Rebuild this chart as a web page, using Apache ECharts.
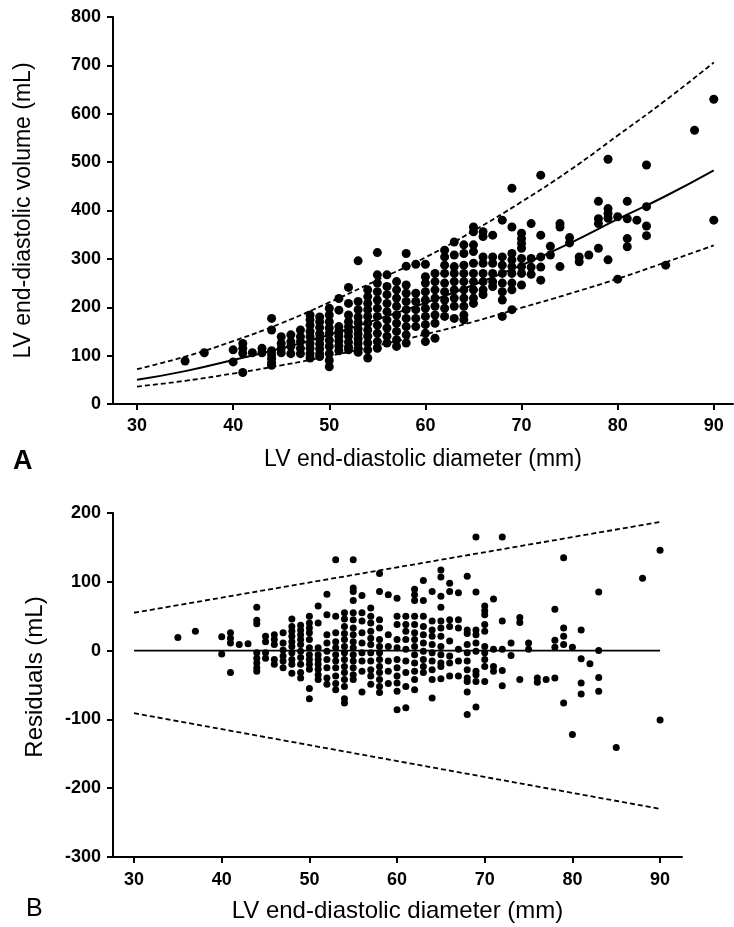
<!DOCTYPE html>
<html>
<head>
<meta charset="utf-8">
<script src="https://cdn.jsdelivr.net/npm/echarts@6/dist/echarts.min.js"></script>
<style>html,body{margin:0;padding:0;background:#fff}#c{width:734px;height:927px}</style>
</head>
<body>
<div id="c"></div>
<script>
// Panel A: LV end-diastolic volume (mL) by LV end-diastolic diameter (mm), grouped by diameter
const volumeColumns = [
  [35,[89]], [37,[106]], [40,[112,87]], [41,[125,115,105,65]], [42,[106]], [43,[115,106]],
  [44,[177,153,110,102,94,86,80]], [45,[139,125,115,106]], [46,[143,129,119,104]],
  [47,[153,139,129,115,104]], [48,[184,174,163,150,139,125,115,104,95]],
  [49,[180,170,158,145,135,124,114,104,98]], [50,[198,184,170,157,146,132,119,104,90,77]],
  [51,[218,194,160,150,140,130,120,110]], [52,[241,208,184,170,160,150,140,128,118,112]],
  [53,[296,212,195,180,168,155,145,135,125,115,107]],
  [54,[236,222,208,195,181,167,153,140,126,112,95]],
  [55,[313,267,250,232,215,198,181,163,146,129,115]],
  [56,[267,243,226,208,191,174,157,140,126]], [57,[253,236,219,202,184,167,150,133,119]],
  [58,[311,285,246,229,212,195,177,160,143,126]], [59,[289,229,212,195,177,160]],
  [60,[289,263,250,232,215,198,181,164,146,129]], [61,[270,253,236,219,202,184,167,136]],
  [62,[318,304,287,270,250,232,215,198,181]], [63,[335,308,284,270,253,236,219,202,177]],
  [64,[329,311,287,270,253,236,219,202,184,174]], [65,[366,356,329,315,291,270,253,236,219,208]],
  [66,[356,346,304,291,270,253,236,226]], [67,[349,304,291,270,253,243]],
  [68,[380,304,287,270,250,232,215,181]], [69,[446,366,311,298,284,270,250,236,195]],
  [70,[353,342,332,322,301,284,270,246]], [71,[373,301,283,268]], [72,[473,349,304,283,256]],
  [73,[326,308]], [74,[373,366,284]], [75,[344,333]], [76,[304,294]], [77,[308]],
  [78,[419,383,373,322]], [79,[506,404,394,384,298]], [80,[387,258]], [81,[419,383,342,325]],
  [82,[380]], [83,[494,408,368,348]], [85,[287]], [88,[566]], [90,[630,380]]
];
// Panel A fitted curve and prediction limits, read at 5 mm steps
const fitDiameter = [30,35,40,45,50,55,60,65,70,75,80,85,90];
const fitVolume   = [50,68,91,115,143,175,209,246,287,332,382,430,483];
const upperVolume = [72,98,130,167,210,256,303,358,418,483,555,628,706];
const lowerVolume = [36,48,63,80,99,121,144,170,199,228,259,293,328];

// Panel B: residuals (mL) by diameter
const residualColumns = [
  [35,[19]], [37,[28]], [40,[20,-5]], [41,[26,18,11,-32]], [42,[9]], [43,[10]],
  [44,[63,44,39,-3,-11,-18,-25,-30]], [45,[21,13,-3,-11]], [46,[23,16,9,-13,-20]],
  [47,[26,11,1,-8,-15,-25]], [48,[46,35,28,21,13,6,-3,-13,-20,-33]],
  [49,[37,30,23,16,9,-1,-10,-20,-32,-40]], [50,[50,40,33,26,16,4,-6,-13,-20,-27,-55,-70]],
  [51,[65,40,4,-6,-13,-20,-27,-35,-42]], [52,[82,52,23,11,-1,-13,-25,-40,-49]],
  [53,[132,50,26,13,4,-6,-15,-25,-37,-48,-57]],
  [54,[55,46,35,25,16,6,-3,-13,-23,-32,-42,-52,-70,-76]],
  [55,[132,91,86,73,55,45,33,23,13,4,-6,-15,-25,-35,-42]],
  [56,[80,55,43,26,11,-3,-15,-30,-60]], [57,[62,50,40,28,18,9,-3,-15,-28,-37,-49]],
  [58,[112,86,45,33,16,6,-3,-13,-23,-32,-42,-52,-61]], [59,[81,23,6,-15,-30,-48]],
  [60,[76,50,38,16,4,-13,-25,-37,-47,-59,-86]], [61,[50,38,28,16,2,-15,-32,-52,-83]],
  [62,[89,81,73,50,38,26,16,6,-6,-18,-30,-42,-57]], [63,[102,73,50,35,23,11,-1,-13,-23,-32]],
  [64,[86,43,30,21,9,-3,-15,-28,-42,-69]], [65,[117,107,79,63,43,33,21,6,-6,-18,-23,-41]],
  [66,[98,86,45,35,14,-8,-18,-37]], [67,[84,45,33,2,-15,-37]],
  [68,[108,30,25,9,-3,-15,-28,-40,-45,-60,-93]], [69,[165,85,30,23,11,-1,-30,-35,-45,-82]],
  [70,[65,58,52,38,28,6,-3,-13,-23,-45]], [71,[75,2,-23,-30]], [72,[165,43,2,-29,-51]],
  [73,[11,-7]], [74,[48,41,-42]], [75,[11,2]], [76,[-40,-46]], [77,[-42]],
  [78,[60,15,5,-40]], [79,[135,33,21,9,-76]], [80,[5,-122]], [81,[30,-12,-47,-63]],
  [82,[-19]], [83,[85,0,-39,-59]], [85,[-141]], [88,[105]], [90,[146,-101]]
];
const bandDiameter  = [30,90];
const zeroResidual  = [0,0];
const upperResidual = [55,187];
const lowerResidual = [-91,-230];

const xTicks = [30,40,50,60,70,80,90];

const FONT = 'Liberation Sans, Arial, Helvetica, sans-serif';
const flat = cols => cols.flatMap(([d, vs]) => vs.map(v => [d, v]));
const pairs = (xs, ys) => xs.map((x, i) => [x, ys[i]]);

const axisLineStyle = {show:true, onZero:false, lineStyle:{color:'#000', width:2}};
const tickStyle = {show:true, inside:false, length:6, lineStyle:{color:'#000', width:2}};
const labelStyle = {color:'#000', fontFamily:FONT, fontWeight:'bold', fontSize:18};
const dashStyle = {color:'#000', width:1.8, type:[5,3]};

const chart = echarts.init(document.getElementById('c'), null, {renderer:'canvas'});
chart.setOption({
  animation:false,
  backgroundColor:'#fff',
  grid:[
    {left:113, top:17, width:620, height:387},
    {left:113, top:513, width:569, height:344}
  ],
  xAxis:[
    {type:'value', gridIndex:0, min:27.5, max:92,
     name:'LV end-diastolic diameter (mm)', nameLocation:'middle', nameGap:44,
     nameTextStyle:{color:'#000', fontFamily:FONT, fontSize:23},
     axisLine:axisLineStyle,
     axisTick:Object.assign({customValues:xTicks}, tickStyle),
     axisLabel:Object.assign({customValues:xTicks, margin:13}, labelStyle),
     splitLine:{show:false}},
    {type:'value', gridIndex:1, min:27.6, max:92.5,
     name:'LV end-diastolic diameter (mm)', nameLocation:'middle', nameGap:42,
     nameTextStyle:{color:'#000', fontFamily:FONT, fontSize:24},
     axisLine:axisLineStyle,
     axisTick:Object.assign({customValues:xTicks}, tickStyle),
     axisLabel:Object.assign({customValues:xTicks, margin:14}, labelStyle),
     splitLine:{show:false}}
  ],
  yAxis:[
    {type:'value', gridIndex:0, min:0, max:800, interval:100,
     name:'LV end-diastolic volume (mL)', nameLocation:'middle', nameGap:78,
     nameTextStyle:{color:'#000', fontFamily:FONT, fontSize:23},
     axisLine:axisLineStyle, axisTick:tickStyle,
     axisLabel:Object.assign({margin:12}, labelStyle),
     splitLine:{show:false}},
    {type:'value', gridIndex:1, min:-300, max:200, interval:100,
     name:'Residuals (mL)', nameLocation:'middle', nameGap:66,
     nameTextStyle:{color:'#000', fontFamily:FONT, fontSize:24, padding:[0,0,0,16]},
     axisLine:axisLineStyle, axisTick:tickStyle,
     axisLabel:Object.assign({margin:12}, labelStyle),
     splitLine:{show:false}}
  ],
  graphic:[
    {type:'text', left:13, top:448, style:{text:'A', font:'bold 27px ' + FONT, fill:'#000'}},
    {type:'text', left:26, top:897, style:{text:'B', font:'25px ' + FONT, fill:'#000'}}
  ],
  series:[
    {type:'line', xAxisIndex:0, yAxisIndex:0, data:pairs(fitDiameter, upperVolume), smooth:true,
     showSymbol:false, lineStyle:dashStyle, z:2},
    {type:'line', xAxisIndex:0, yAxisIndex:0, data:pairs(fitDiameter, lowerVolume), smooth:true,
     showSymbol:false, lineStyle:dashStyle, z:2},
    {type:'line', xAxisIndex:0, yAxisIndex:0, data:pairs(fitDiameter, fitVolume), smooth:true,
     showSymbol:false, lineStyle:{color:'#000', width:2}, z:2},
    {type:'scatter', xAxisIndex:0, yAxisIndex:0, data:flat(volumeColumns), symbolSize:9,
     itemStyle:{color:'#000', opacity:1}, z:3},
    {type:'line', xAxisIndex:1, yAxisIndex:1, data:pairs(bandDiameter, upperResidual),
     showSymbol:false, lineStyle:dashStyle, z:2},
    {type:'line', xAxisIndex:1, yAxisIndex:1, data:pairs(bandDiameter, lowerResidual),
     showSymbol:false, lineStyle:dashStyle, z:2},
    {type:'line', xAxisIndex:1, yAxisIndex:1, data:pairs(bandDiameter, zeroResidual),
     showSymbol:false, lineStyle:{color:'#000', width:1.6}, z:2},
    {type:'scatter', xAxisIndex:1, yAxisIndex:1, data:flat(residualColumns), symbolSize:7,
     itemStyle:{color:'#000', opacity:1}, z:3}
  ]
});
</script>
</body>
</html>
